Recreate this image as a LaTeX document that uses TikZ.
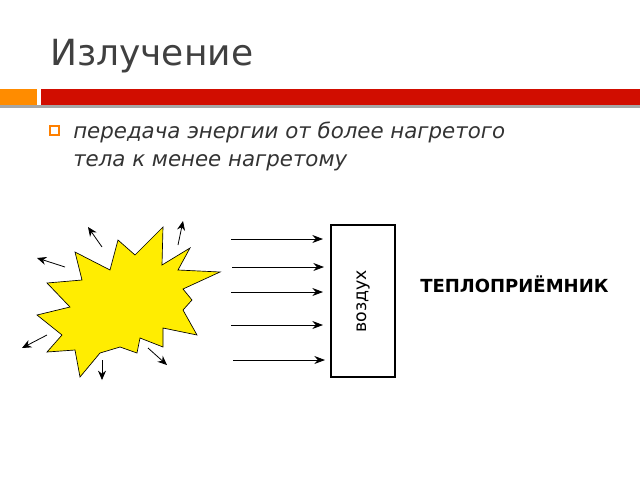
\documentclass[tikz,border=0pt]{standalone}
\usepackage{fontspec}
\setmainfont{DejaVu Sans}
\usetikzlibrary{arrows.meta}
\begin{document}
\begin{tikzpicture}[x=0.75pt,y=-0.75pt,
  ray/.style={-{Stealth[length=8pt,width=6pt]},line width=0.6pt},
  small/.style={-{Stealth[length=7pt,width=6pt]},line width=0.6pt}]
\useasboundingbox (0,0) rectangle (640,480);
\fill[white] (0,0) rectangle (640,480);
\node[anchor=base west,text=black!75,font=\fontsize{27}{30}\selectfont,inner sep=0] (title) at (50,65) {Излучение};
\fill[black!35] (0,105) rectangle (640,108);
\fill[orange!90!yellow] (0,89) rectangle (37,105);
\fill[red!80!black!90!orange] (41,89) rectangle (640,105);
\draw[orange,line width=1pt] (50,126) rectangle (59,135);
\node[anchor=north west,align=left,inner sep=0,font=\itshape\fontsize{16}{21}\selectfont,text=black!80] (txt) at (73,122) {передача энергии от более нагретого\\тела к менее нагретому};
\draw[fill=yellow!95!orange,line width=0.5pt] (220,272)--(183,289)--(192,300)--(183,310)--(197,335)--(163,328)--(163,347)--(140,338)--(137,353)--(120,347)--(100,353)--(80,377)--(75,350)--(47,352)--(62,335)--(37,315)--(70,307)--(47,283)--(82,280)--(75,252)--(110,270)--(118,240)--(135,255)--(163,227)--(162,265)--(190,248)--(178,270)--cycle;
\draw[small] (102,247)--(88,227);
\draw[small] (65,267)--(37,258);
\draw[small] (178,245)--(183,221);
\draw[small] (47,335)--(22,348);
\draw[small] (102,360)--(102,380);
\draw[small] (148,348)--(167,365);
\draw[line width=1.5pt] (331,225) rectangle (395,377);
\node[rotate=90,font=\fontsize{13}{15}\selectfont] (air) at (363,301) {воздух};
\foreach \y/\s in {239/231,267/232,292/231,325/231,360/233}
  \draw[ray] (\s,\y)--(\s+92,\y);
\node[anchor=west,font=\bfseries\fontsize{13.5}{15}\selectfont,inner sep=0] (recv) at (420,284) {ТЕПЛОПРИЁМНИК};
\end{tikzpicture}
\end{document}
